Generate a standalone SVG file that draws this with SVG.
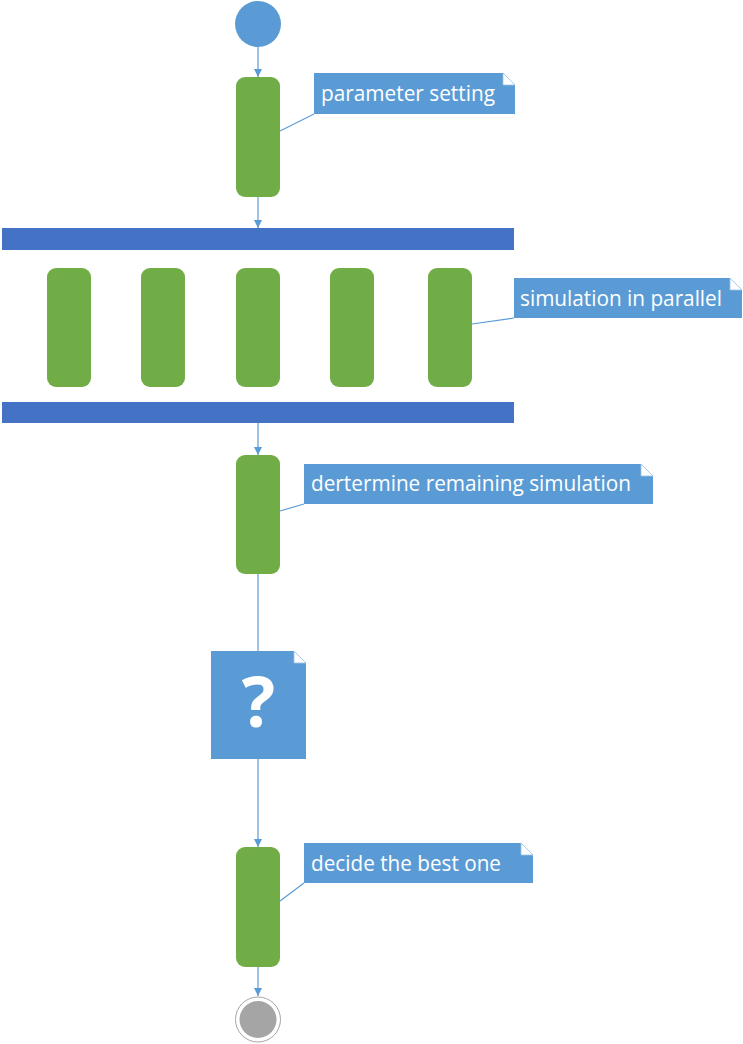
<svg xmlns="http://www.w3.org/2000/svg" width="743" height="1044" viewBox="0 0 743 1044">
<style>
.act{fill:#70AD47;}
.bar{fill:#4472C4;}
.note{fill:#5B9BD5;}
.fold{fill:#FFFFFF;stroke:#9DC3E6;stroke-width:0.8;}
.lbl{font-family:"Open Sans","Noto Sans","DejaVu Sans",sans-serif;font-size:21px;fill:#FFFFFF;}
.flow{stroke:#5B9BD5;stroke-width:1.2;fill:none;}
.arr{stroke:#5B9BD5;stroke-width:1.2;fill:none;marker-end:url(#ah);}
</style>
<defs>
<marker id="ah" viewBox="0 0 8 8" refX="8" refY="4" markerWidth="8" markerHeight="8" markerUnits="userSpaceOnUse" orient="auto">
<path d="M0,0 L8,4 L0,8 Z" fill="#5B9BD5"/>
</marker>
</defs>
<rect width="743" height="1044" fill="#FFFFFF"/>
<g id="connectors">
<line class="arr" x1="258" y1="47" x2="258" y2="77"/>
<line class="arr" x1="258" y1="197" x2="258" y2="228"/>
<line class="arr" x1="258" y1="423" x2="258" y2="455"/>
<line class="flow" x1="258" y1="574" x2="258" y2="651"/>
<line class="arr" x1="258" y1="759" x2="258" y2="847"/>
<line class="arr" x1="258" y1="967" x2="258" y2="996"/>
<line class="flow" x1="314" y1="114" x2="280" y2="131"/>
<line class="flow" x1="514" y1="318" x2="472" y2="324"/>
<line class="flow" x1="304" y1="504" x2="280" y2="511"/>
<line class="flow" x1="304" y1="883" x2="280" y2="901"/>
</g>
<g id="start"><circle cx="258" cy="24" r="23" fill="#5B9BD5"/></g>
<g id="action1"><rect class="act" x="236" y="77" width="44" height="120" rx="9"/></g>
<g id="note1">
<path class="note" d="M314,73 H503 L515,85 V114 H314 Z"/>
<path class="fold" d="M503,73 V85 H515 Z"/>
<text class="lbl" x="321" y="101" textLength="174" lengthAdjust="spacingAndGlyphs">parameter setting</text>
</g>
<g id="fork"><rect class="bar" x="2" y="228" width="512" height="22"/></g>
<g id="par1"><rect class="act" x="47" y="268" width="44" height="119" rx="9"/></g>
<g id="par2"><rect class="act" x="141" y="268" width="44" height="119" rx="9"/></g>
<g id="par3"><rect class="act" x="236" y="268" width="44" height="119" rx="9"/></g>
<g id="par4"><rect class="act" x="330" y="268" width="44" height="119" rx="9"/></g>
<g id="par5"><rect class="act" x="428" y="268" width="44" height="119" rx="9"/></g>
<g id="note2">
<path class="note" d="M514,278 H730 L742,290 V318 H514 Z"/>
<path class="fold" d="M730,278 V290 H742 Z"/>
<text class="lbl" x="520" y="306" textLength="202" lengthAdjust="spacingAndGlyphs">simulation in parallel</text>
</g>
<g id="join"><rect class="bar" x="2" y="402" width="512" height="21"/></g>
<g id="action3"><rect class="act" x="236" y="455" width="44" height="119" rx="9"/></g>
<g id="note3">
<path class="note" d="M304,464 H641 L653,476 V504 H304 Z"/>
<path class="fold" d="M641,464 V476 H653 Z"/>
<text class="lbl" x="311" y="491" textLength="320" lengthAdjust="spacingAndGlyphs">dertermine remaining simulation</text>
</g>
<g id="question">
<path class="note" d="M211,651 H294 L306,663 V759 H211 Z"/>
<path class="fold" d="M294,651 V663 H306 Z"/>
<text x="258.5" y="727" text-anchor="middle" font-family="'Open Sans','Noto Sans',sans-serif" font-weight="bold" font-size="70" fill="#FFFFFF">?</text>
</g>
<g id="action4"><rect class="act" x="236" y="847" width="44" height="120" rx="9"/></g>
<g id="note4">
<path class="note" d="M304,843 H521 L533,855 V883 H304 Z"/>
<path class="fold" d="M521,843 V855 H533 Z"/>
<text class="lbl" x="311" y="871" textLength="190" lengthAdjust="spacingAndGlyphs">decide the best one</text>
</g>
<g id="end">
<circle cx="258" cy="1019.5" r="22.5" fill="#FFFFFF" stroke="#A5A5A5" stroke-width="1"/>
<circle cx="258" cy="1019.5" r="18.5" fill="#A5A5A5"/>
</g>
</svg>
